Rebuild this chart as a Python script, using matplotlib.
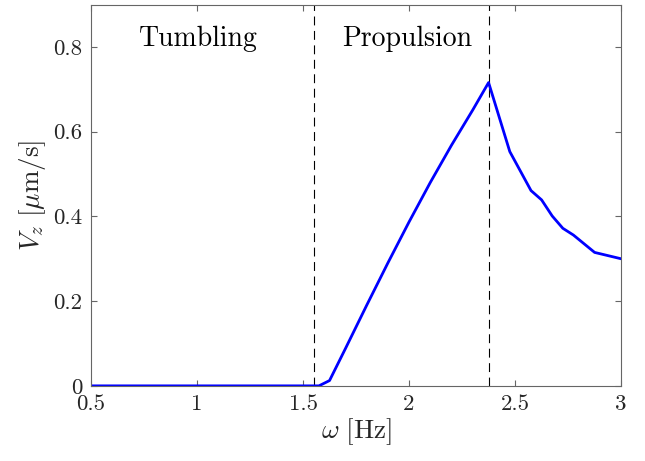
# Vz vs forcing frequency, tumbling / propulsion regimes

import matplotlib
matplotlib.use("Agg")
import matplotlib.pyplot as plt
from matplotlib.ticker import FuncFormatter

plt.rcParams['font.family'] = 'serif'
plt.rcParams['font.serif'] = ['cmr10']
plt.rcParams['mathtext.fontset'] = 'cm'
plt.rcParams['axes.formatter.use_mathtext'] = True

omega = [0.5, 1.55, 1.575, 1.625, 1.7, 1.8, 1.9, 2.0, 2.1, 2.2, 2.3, 2.375,
         2.475, 2.575, 2.625, 2.675, 2.725, 2.775, 2.875, 3.0]
vz = [0.0, 0.0, 0.0, 0.0125, 0.088, 0.19, 0.29, 0.387, 0.48, 0.568, 0.651, 0.716,
      0.553, 0.461, 0.439, 0.401, 0.372, 0.356, 0.315, 0.300]

omega_tumble = 1.552   # tumbling -> propulsion
omega_peak = 2.378     # peak velocity

regions = ['Tumbling', 'Propulsion']
region_x = [1.005, 1.993]
region_y = 0.82

xticks = [0.5, 1, 1.5, 2, 2.5, 3]
yticks = [0, 0.2, 0.4, 0.6, 0.8]

fig = plt.figure(figsize=(6.45, 4.61), dpi=100)
ax = fig.add_axes([0.141, 0.163, 0.822, 0.827])

for xv in [omega_tumble, omega_peak]:
    ax.axvline(xv, color='k', lw=0.8, ls=(0, (8, 5)))

ax.plot(omega, vz, color=(0, 0, 1), lw=2)

for name, xc in zip(regions, region_x):
    ax.text(xc, region_y, name, ha='center', va='center', fontsize=20)

ax.set_xlim(0.5, 3)
ax.set_ylim(0, 0.9)
ax.set_xticks(xticks)
ax.set_yticks(yticks)
fmt = FuncFormatter(lambda v, p: '{:g}'.format(v))
ax.xaxis.set_major_formatter(fmt)
ax.yaxis.set_major_formatter(fmt)

ax.tick_params(direction='in', top=True, right=True, length=4, width=0.8,
               color='#666666', labelcolor='#262626', labelsize=16.5, pad=6)
for s in ax.spines.values():
    s.set_color('#666666')
    s.set_linewidth(0.8)

ax.set_xlabel(r'$\omega\ [\mathrm{Hz}]$', fontsize=19.5, color='#262626', labelpad=2)
ax.set_ylabel(r'$V_z\ [\mu\mathrm{m/s}]$', fontsize=19.5, color='#262626')

fig.savefig('out.png', dpi=100)
